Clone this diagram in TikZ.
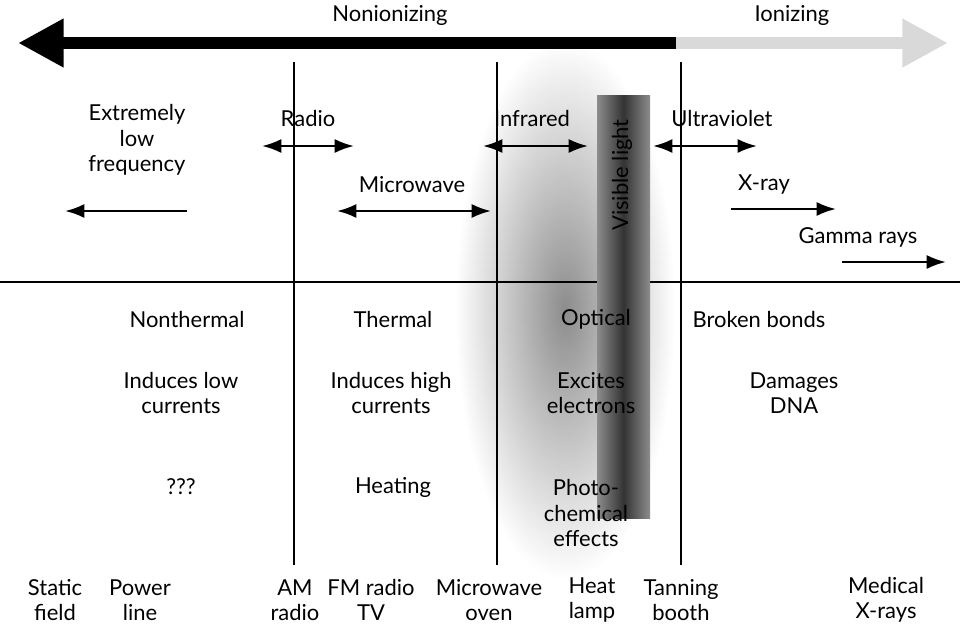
\documentclass[tikz,border=0pt]{standalone}
\usepackage{fontspec}
\setmainfont{Lato}
\usetikzlibrary{arrows.meta}
\tikzset{
  lbl/.style={align=center, font=\fontsize{12.5}{14.5}\selectfont, inner sep=1pt},
  band/.style={-{Latex[length=11pt,width=8pt]}, line width=1.4pt},
  bands/.style={{Latex[length=11pt,width=8pt]}-{Latex[length=11pt,width=8pt]}, line width=1.4pt},
  divider/.style={line width=0.8pt}
}
\begin{document}
\begin{tikzpicture}[x=0.02cm,y=-0.02cm]
\useasboundingbox (0,0) rectangle (960,630);
% glow behind the visible band
\shade[inner color=black!45, outer color=white] (565,310) ellipse (110 and 270);
% dividers
\draw[divider] (0,282) -- (960,282);
\foreach \xx in {294,497,681} \draw[divider] (\xx,62) -- (\xx,565);
% top arrow
\coordinate (split) at (676,43);
\coordinate (nonend) at (18,43);
\coordinate (ionend) at (948,43);
\draw[-{Triangle[length=26pt,width=26pt]}, line width=7pt, black!15] (split) -- (ionend);
\draw[-{Triangle[length=26pt,width=26pt]}, line width=7pt] (split) -- (nonend);
\node[lbl] (nonion) at (390,15) {Nonionizing};
\node[lbl] (ion) at (792,15) {Ionizing};
% visible light bar
\shade[left color=black!45, right color=black!45, middle color=black!80] (597,95) rectangle (650,518);
\node[lbl, rotate=90] (vis) at (622,175) {Visible light};
% band arrows
\coordinate (elfA) at (187,211); \coordinate (elfB) at (65,211);
\coordinate (radA) at (262,146); \coordinate (radB) at (354,146);
\coordinate (micA) at (337,211); \coordinate (micB) at (491,211);
\coordinate (infA) at (483,146); \coordinate (infB) at (588,146);
\coordinate (uvA) at (653,146);  \coordinate (uvB) at (757,146);
\coordinate (xrA) at (731,209);  \coordinate (xrB) at (836,209);
\coordinate (gaA) at (842,262);  \coordinate (gaB) at (946,262);
\draw[band] (elfA) -- (elfB);
\draw[bands] (radA) -- (radB);
\draw[bands] (micA) -- (micB);
\draw[bands] (infA) -- (infB);
\draw[bands] (uvA) -- (uvB);
\draw[band] (xrA) -- (xrB);
\draw[band] (gaA) -- (gaB);
\node[lbl] (elf) at (137,140) {Extremely\\low\\frequency};
\node[lbl] (radio) at (308,118) {Radio};
\node[lbl] (micro) at (412,185) {Microwave};
\node[lbl] (infra) at (532,118) {Infrared};
\node[lbl] (uv) at (722,118) {Ultraviolet};
\node[lbl] (xray) at (764,185) {X-ray};
\node[lbl] (gamma) at (858,237) {Gamma rays};
% effects
\node[lbl] (nonth) at (187,319) {Nonthermal};
\node[lbl] (therm) at (393,319) {Thermal};
\node[lbl] (opt) at (596,319) {Optical};
\node[lbl] (bond) at (759,319) {Broken bonds};
\node[lbl] (lowc) at (181,393) {Induces low\\currents};
\node[lbl] (highc) at (391,393) {Induces high\\currents};
\node[lbl] (exc) at (591,393) {Excites\\electrons};
\node[lbl] (dna) at (794,393) {Damages\\DNA};
\node[lbl] (unk) at (181,487) {???};
\node[lbl] (heat) at (393,487) {Heating};
\node[lbl] (photo) at (586,513) {Photo-\\chemical\\effects};
% sources
\node[lbl] (stat) at (55,600) {Static\\field};
\node[lbl] (pow) at (140,600) {Power\\line};
\node[lbl] (am) at (295,600) {AM\\radio};
\node[lbl] (fm) at (371,600) {FM radio\\TV};
\node[lbl] (mw) at (489,600) {Microwave\\oven};
\node[lbl] (hl) at (592,600) {Heat\\lamp};
\node[lbl] (tan) at (681,600) {Tanning\\booth};
\node[lbl] (med) at (886,600) {Medical\\X-rays};
\end{tikzpicture}
\end{document}
